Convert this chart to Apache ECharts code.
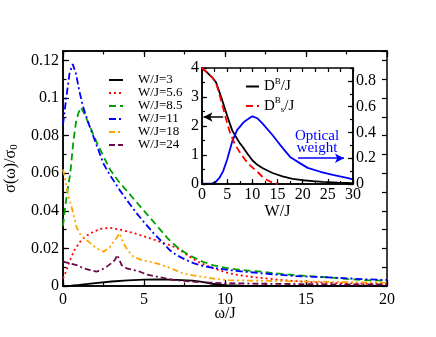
<!DOCTYPE html>
<html><head><meta charset="utf-8">
<script src="https://cdn.jsdelivr.net/npm/echarts@6/dist/echarts.min.js"></script>
<style>html,body{margin:0;padding:0;background:#fff}#c{width:436px;height:337px}</style>
</head><body><div id="c"></div>
<script>
// Main panel: sigma(omega)/sigma0 vs omega/J
const seriesNames = ['W/J=3','W/J=5.6','W/J=8.5','W/J=11','W/J=18','W/J=24'];
const w3 = [[0,0],[0.5,0.0002],[1,0.0006],[2,0.0015],[3,0.0024],[4,0.003],[5,0.0034],[6,0.0035],[7,0.0033],[8,0.0029],[8.6,0.0022],[9.2,0.0012],[10,0.0004],[11,0.0002],[13,0.0001],[20,0.0001]];
const w56 = [[0,0.004],[0.2,0.008],[0.45,0.014],[0.7,0.019],[1.05,0.0235],[1.4,0.0265],[1.9,0.029],[2.4,0.0305],[2.9,0.031],[3.4,0.0302],[3.9,0.0292],[4.5,0.0278],[5,0.0264],[5.5,0.025],[6,0.0235],[6.5,0.022],[7,0.0203],[7.5,0.0175],[8,0.0145],[8.5,0.0122],[9,0.0104],[9.5,0.0088],[10,0.0074],[10.6,0.0061],[11.5,0.005],[12.3,0.0042],[13.5,0.0032],[15,0.0022],[17,0.0015],[20,0.001]];
const w85 = [[0,0.032],[0.15,0.043],[0.3,0.052],[0.45,0.06],[0.64,0.077],[0.8,0.087],[0.95,0.092],[1.1,0.095],[1.3,0.092],[1.5,0.088],[1.8,0.082],[2.1,0.076],[2.5,0.069],[2.9,0.062],[3.4,0.056],[3.9,0.051],[4.5,0.045],[5,0.04],[5.5,0.035],[6,0.03],[6.5,0.025],[7,0.021],[7.5,0.018],[8,0.0155],[8.6,0.013],[9.3,0.011],[10.2,0.0094],[11,0.0085],[12.3,0.0076],[13,0.0068],[14.3,0.0058],[15.3,0.0052],[16.4,0.0046],[17.5,0.0038],[18.4,0.0032],[19.2,0.003],[20,0.0027]];
const w11 = [[0,0.086],[0.2,0.1],[0.4,0.113],[0.6,0.118],[0.8,0.113],[1,0.104],[1.25,0.095],[1.6,0.086],[1.9,0.079],[2.2,0.072],[2.5,0.065],[2.9,0.059],[3.5,0.051],[4,0.045],[4.55,0.0386],[5,0.034],[5.6,0.028],[6,0.0245],[6.6,0.019],[7,0.0165],[7.6,0.0138],[8.1,0.012],[8.7,0.0105],[9.4,0.0095],[10.2,0.0085],[11,0.0078],[12.3,0.0067],[13,0.0062],[14.3,0.0053],[15.5,0.0049],[16.4,0.0046],[17.5,0.0041],[18.5,0.0036],[20,0.0032]];
const w18 = [[0,0.062],[0.1,0.058],[0.33,0.048],[0.64,0.0386],[0.85,0.031],[1.1,0.027],[1.46,0.0244],[2.08,0.02],[2.5,0.0182],[2.9,0.0207],[3.2,0.0244],[3.5,0.028],[3.73,0.0227],[4,0.019],[4.34,0.0156],[4.96,0.0135],[5.37,0.0129],[6,0.0115],[6.4,0.0103],[7,0.0082],[7.4,0.0067],[8,0.0057],[8.5,0.005],[9.5,0.0037],[10.2,0.0031],[12,0.0028],[14,0.0025],[16,0.0023],[18,0.002],[20,0.0018]];
const w24 = [[0,0.013],[0.1,0.0129],[0.84,0.0111],[1.25,0.0095],[1.67,0.0085],[2.06,0.0076],[2.4,0.0088],[2.7,0.0103],[3.0,0.0122],[3.2,0.0138],[3.35,0.0165],[3.62,0.0111],[3.93,0.0094],[4.75,0.0076],[5.2,0.006],[5.78,0.005],[6.8,0.0032],[8,0.0023],[9,0.0018],[10,0.0015],[12,0.0012],[15,0.001],[18,0.0008],[20,0.0008]];
const mainYTicks = [0,0.02,0.04,0.06,0.08,0.1,0.12];

// Inset: D^B/J, D_s^B/J (left axis) and optical weight (right axis) vs W/J
const insetDB = [[0,4],[1,3.85],[2,3.68],[2.8,3.5],[4,2.9],[5,2.35],[6,1.85],[7,1.55],[7.5,1.41],[8,1.3],[9,1.05],[10,0.82],[11,0.66],[12,0.55],[14,0.38],[16,0.26],[18,0.18],[20,0.13],[22,0.1],[24,0.07],[27,0.045],[30,0.03]];
const insetDsB = [[0,4],[1,3.85],[2,3.68],[2.8,3.5],[4,2.75],[5,2.1],[5.6,1.75],[6.5,1.38],[7.5,1.1],[8.5,0.85],[9.5,0.65],[11,0.42],[12,0.25],[13,0.13],[14,0.05],[15,0]];
const insetOptW = [[0,0],[2,0.005],[2.6,0.01],[3.5,0.05],[4.2,0.1],[5,0.19],[6,0.33],[7,0.42],[8.3,0.48],[9,0.5],[10,0.525],[11,0.51],[12,0.47],[14,0.38],[15,0.33],[16,0.28],[17.5,0.21],[19.5,0.16],[21,0.125],[23.5,0.095],[26,0.07],[28.8,0.047],[30,0.036]];

const FONT = 'Liberation Serif';
const colors = ['#000000','#ff0000','#00a000','#0000ff','#ffa500','#6a0a4a'];
const dashes = ['solid',[2,3],[7,4],[7,3,2,3],[6,3,2,3,2,3],[6,3,6,3,2,3]];
const mainData = [w3,w56,w85,w11,w18,w24];

const chart = echarts.init(document.getElementById('c'), null, {renderer:'canvas'});
const lab = {color:'#000', fontFamily:FONT, fontSize:16};
function ax(o){
  return Object.assign({type:'value', splitLine:{show:false},
    axisLine:{show:true, onZero:false, lineStyle:{color:'#000', width:1.5}},
    axisTick:{show:true, inside:true, length:o.len, lineStyle:{color:'#000', width:1.2}},
    axisLabel:{show:false}}, o.extra||{}, {gridIndex:o.g, min:o.min, max:o.max, interval:o.iv, position:o.pos});
}
const nameStyle = {color:'#000', fontFamily:FONT, fontSize:16};

const xAxes = [
  ax({g:0,min:0,max:20,iv:5,pos:'bottom',len:6, extra:{axisLabel:Object.assign({margin:6}, lab),
     name:'ω/J', nameLocation:'middle', nameGap:20, nameMoveOverlap:false, nameTextStyle:nameStyle}}),
  ax({g:0,min:0,max:20,iv:2.5,pos:'bottom',len:3.5}),
  ax({g:0,min:0,max:20,iv:5,pos:'top',len:6}),
  ax({g:0,min:0,max:20,iv:2.5,pos:'top',len:3.5}),
  ax({g:1,min:0,max:30,iv:5,pos:'bottom',len:5, extra:{z:6, axisLabel:Object.assign({margin:3}, lab),
     name:'W/J', nameLocation:'middle', nameGap:20, nameTextStyle:nameStyle}}),
  ax({g:1,min:0,max:30,iv:2.5,pos:'bottom',len:3, extra:{z:6}}),
  ax({g:1,min:0,max:30,iv:2.5,pos:'top',len:4, extra:{z:6}})
];
const yAxes = [
  ax({g:0,min:0,max:0.125,iv:0.02,pos:'left',len:6, extra:{
     axisLabel:Object.assign({margin:4, showMaxLabel:false, formatter:v=>mainYTicks.some(t=>Math.abs(t-v)<1e-9)?String(+v.toFixed(2)):''}, lab),
     name:'{a|σ(ω)/σ}{s|0}', nameLocation:'middle', nameGap:32,
     nameTextStyle:Object.assign({rich:{a:{fontFamily:FONT,fontSize:16,color:'#000'}, s:{fontFamily:FONT,fontSize:11,color:'#000',padding:[8,0,0,0]}}}, nameStyle)}}),
  ax({g:0,min:0,max:0.125,iv:0.01,pos:'left',len:3.5}),
  ax({g:0,min:0,max:0.125,iv:0.01,pos:'right',len:5}),
  ax({g:1,min:0,max:4,iv:1,pos:'left',len:5, extra:{z:6, axisLabel:Object.assign({margin:3}, lab)}}),
  ax({g:1,min:0,max:4,iv:0.5,pos:'left',len:3, extra:{z:6}}),
  ax({g:1,min:0,max:0.9,iv:0.2,pos:'right',len:5, extra:{z:6,
     axisLabel:Object.assign({margin:3, showMaxLabel:false, formatter:v=>(Math.abs(v-0.9)<1e-9?'':String(+v.toFixed(1)))}, lab)}}),
  ax({g:1,min:0,max:0.9,iv:0.1,pos:'right',len:3, extra:{z:6}})
];

const series = mainData.map((d,i)=>({
  name: seriesNames[i], type:'line', xAxisIndex:0, yAxisIndex:0, data:d,
  showSymbol:false, symbol:'none', animation:false,
  lineStyle:{color:colors[i], width:1.8, type:dashes[i]}, itemStyle:{color:colors[i]}, z:3
}));
series.push({name:'DB', type:'line', xAxisIndex:4, yAxisIndex:3, data:insetDB, symbol:'none', showSymbol:false,
  lineStyle:{color:'#000', width:1.8}, itemStyle:{color:'#000'}, z:5,
  markLine:{silent:true, symbol:['none','arrow'], symbolSize:[7,9], animation:false, label:{show:false},
    lineStyle:{color:'#000', width:1.5, type:'solid'},
    data:[[{coord:[4.2,2.31]},{coord:[0.3,2.31]}]]}});
series.push({name:'DsB', type:'line', xAxisIndex:4, yAxisIndex:3, data:insetDsB, symbol:'none', showSymbol:false,
  lineStyle:{color:'#ff0000', width:1.8, type:[7,4]}, itemStyle:{color:'#ff0000'}, z:6});
series.push({name:'OW', type:'line', xAxisIndex:4, yAxisIndex:5, data:insetOptW, symbol:'none', showSymbol:false,
  lineStyle:{color:'#0000ff', width:1.8}, itemStyle:{color:'#0000ff'}, z:5,
  markLine:{silent:true, symbol:['none','arrow'], symbolSize:[7,9], animation:false, label:{show:false},
    lineStyle:{color:'#0000ff', width:1.5, type:'solid'},
    data:[[{coord:[19.1,0.2]},{coord:[28.2,0.2]}]]}});

const option = {
  animation:false,
  backgroundColor:'#fff',
  grid:[
    {left:63, top:51, width:324, height:235, show:false, outerBoundsMode:'none', containLabel:false},
    {left:202, top:68, width:151, height:116, show:true, backgroundColor:'#fff', borderWidth:0, outerBoundsMode:'none', containLabel:false}
  ],
  xAxis:xAxes,
  yAxis:yAxes,
  legend:[
    {data:seriesNames, orient:'vertical', left:103, top:68.5, itemWidth:14, itemHeight:10, itemGap:0,
      itemStyle:{opacity:0}, textStyle:{color:'#000', fontFamily:FONT, fontSize:13, lineHeight:13, padding:[0,0,0,10]}, selectedMode:false},
    {data:['DB','DsB'], orient:'vertical', left:240, top:72, itemWidth:13, itemHeight:10, itemGap:2, itemStyle:{opacity:0},
      textStyle:{color:'#000', fontFamily:FONT, fontSize:15, lineHeight:16,
        rich:{m:{fontFamily:FONT,fontSize:15,color:'#000'}, sup:{fontFamily:FONT,fontSize:9,color:'#000',padding:[0,0,10,0]}, sub:{fontFamily:FONT,fontSize:9,color:'#000',padding:[8,0,0,0]}}},
      formatter:n=> n==='DB' ? '{m|D}{sup|B}{m|/J}' : '{m|D}{sup|B}{sub|s}{m|/J}', selectedMode:false, z:10}
  ],
  graphic:[
    {type:'text', x:317, y:136, z:20, style:{text:'Optical', fill:'#0000ff', font:'15px "Liberation Serif"', textAlign:'center', textVerticalAlign:'middle'}},
    {type:'text', x:317, y:148, z:20, style:{text:'weight', fill:'#0000ff', font:'15px "Liberation Serif"', textAlign:'center', textVerticalAlign:'middle'}}
  ],
  series:series
};
chart.setOption(option);
</script></body></html>
